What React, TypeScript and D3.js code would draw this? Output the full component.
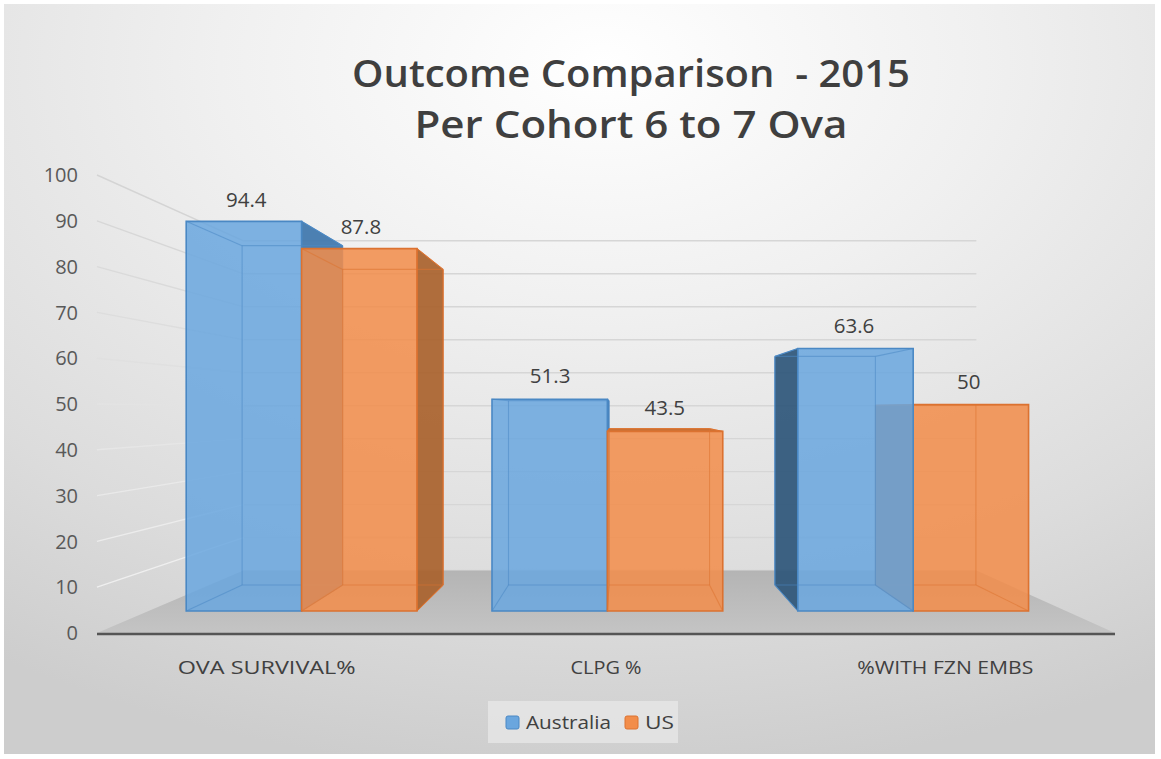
import React from 'react';
import * as d3 from 'd3';

const categories = ['OVA SURVIVAL%', 'CLPG %', '%WITH FZN EMBS'];
const seriesNames = ['Australia', 'US'];
const australiaValues = [94.4, 51.3, 63.6];
const usValues = [87.8, 43.5, 50];
const yTicks = [0, 10, 20, 30, 40, 50, 60, 70, 80, 90, 100];
const titleLines = ['Outcome Comparison  - 2015', 'Per Cohort 6 to 7 Ova'];

const W = 1161;
const H = 759;
const VP = { x: 620, y: 410 };
const DEPTH_K = 0.389;
const Z_FRONT = 0.282;
const Z_BACK = 0.704;
const Z_LABEL = 0.3;

const FONT = "'Open Sans', 'Noto Sans', 'DejaVu Sans', sans-serif";

const palette: Record<string, any> = {
  Australia: { front: '#6aa6de', right: '#3e76ad', left: '#2e5679', top: '#4f88c0', stroke: '#4a88c4' },
  US: { front: '#f28d4a', right: '#a9622d', left: '#b5642a', top: '#c56a2c', stroke: '#dc7230' },
};

function sc(z: number) {
  return 1 / (1 + DEPTH_K * z);
}
function proj(X: number, Y: number, z: number): [number, number] {
  const k = sc(z);
  return [VP.x + (X - VP.x) * k, VP.y + (Y - VP.y) * k];
}
const pts = (a: [number, number][]) => a.map((p) => p.join(',')).join(' ');

export default function App() {
  const x = d3.scaleBand<string>().domain(categories).range([97, 1115]).paddingInner(0).paddingOuter(0);
  const sub = d3
    .scaleBand<string>()
    .domain(seriesNames)
    .range([0, x.bandwidth()])
    .paddingInner(0)
    .paddingOuter(0.325);
  const y = d3.scaleLinear().domain([0, 100]).range([633, 175]);

  const [x0, x1] = x.range();
  const yBase = y(0);

  const valuesBySeries: Record<string, number[]> = { Australia: australiaValues, US: usValues };

  type Bar = { cat: string; name: string; v: number; X0: number; X1: number };
  const bars: Bar[] = [];
  categories.forEach((cat, i) => {
    seriesNames.forEach((name) => {
      const X0 = (x(cat) as number) + (sub(name) as number);
      bars.push({ cat, name, v: valuesBySeries[name][i], X0, X1: X0 + sub.bandwidth() });
    });
  });
  // painter order: farthest from vanishing point first
  const ordered = [...bars].sort(
    (a, b) => Math.abs((b.X0 + b.X1) / 2 - VP.x) - Math.abs((a.X0 + a.X1) / 2 - VP.x)
  );

  const floor: [number, number][] = [
    proj(x0, yBase, 0),
    proj(x1, yBase, 0),
    proj(x1, yBase, 1),
    proj(x0, yBase, 1),
  ];

  const sideColor = d3.interpolateRgb('#f2f2f2', '#d4d4d4');

  return (
    <svg
      width={W}
      height={H}
      viewBox={`0 0 ${W} ${H}`}
      style={{ position: 'absolute', left: 0, top: 0, display: 'block' }}
    >
      <defs>
        <radialGradient id="bg" cx="52%" cy="8%" r="95%" fx="52%" fy="8%">
          <stop offset="0%" stopColor="#ffffff" />
          <stop offset="35%" stopColor="#f0f0f0" />
          <stop offset="75%" stopColor="#dcdcdc" />
          <stop offset="100%" stopColor="#cdcdcd" />
        </radialGradient>
        <linearGradient id="floorGrad" x1="0" y1="0" x2="0" y2="1">
          <stop offset="0%" stopColor="#b4b4b4" />
          <stop offset="100%" stopColor="#c4c4c4" />
        </linearGradient>
      </defs>
      <rect x={0} y={0} width={W} height={H} fill="#ffffff" />
      <rect x={4} y={4} width={W - 10} height={H - 9} fill="url(#bg)" />

      {/* back wall gridlines */}
      {yTicks.map((v) => {
        const a = proj(x0, y(v), 1);
        const b = proj(x1, y(v), 1);
        return <line key={'bw' + v} x1={a[0]} y1={a[1]} x2={b[0]} y2={b[1]} stroke="#d6d6d6" strokeWidth={1.4} />;
      })}
      {/* side wall gridlines */}
      {yTicks.slice(1).map((v) => {
        const a = proj(x0, y(v), 0);
        const b = proj(x0, y(v), 1);
        return (
          <line key={'sw' + v} x1={a[0]} y1={a[1]} x2={b[0]} y2={b[1]} stroke={sideColor(v / 100)} strokeWidth={1.4} />
        );
      })}

      {/* floor */}
      <polygon points={pts(floor)} fill="url(#floorGrad)" />
      <line x1={floor[0][0]} y1={floor[0][1] + 1} x2={floor[1][0]} y2={floor[1][1] + 1} stroke="#555555" strokeWidth={2.6} />

      {/* bars */}
      {ordered.map((b) => {
        const c = palette[b.name];
        const Yt = y(b.v);
        const fTL = proj(b.X0, Yt, Z_FRONT);
        const fTR = proj(b.X1, Yt, Z_FRONT);
        const fBR = proj(b.X1, yBase, Z_FRONT);
        const fBL = proj(b.X0, yBase, Z_FRONT);
        const bTL = proj(b.X0, Yt, Z_BACK);
        const bTR = proj(b.X1, Yt, Z_BACK);
        const bBR = proj(b.X1, yBase, Z_BACK);
        const bBL = proj(b.X0, yBase, Z_BACK);
        const edges: [number, number][][] = [
          [bTL, bTR], [bTR, bBR], [bBR, bBL], [bBL, bTL],
          [fTL, bTL], [fTR, bTR], [fBR, bBR], [fBL, bBL],
        ];
        return (
          <g key={b.cat + b.name}>
            {b.X1 < VP.x && (
              <polygon points={pts([fTR, bTR, bBR, fBR])} fill={c.right} fillOpacity={0.92} stroke={c.stroke} strokeWidth={1} />
            )}
            {b.X0 > VP.x && (
              <polygon points={pts([fTL, bTL, bBL, fBL])} fill={c.left} fillOpacity={0.92} stroke={c.stroke} strokeWidth={1} />
            )}
            {Yt > VP.y && (
              <polygon points={pts([fTL, fTR, bTR, bTL])} fill={c.top} fillOpacity={0.95} stroke={c.stroke} strokeWidth={1} />
            )}
            <polygon points={pts([fTL, fTR, fBR, fBL])} fill={c.front} fillOpacity={0.86} />
            {edges.map((e, k) => (
              <line key={k} x1={e[0][0]} y1={e[0][1]} x2={e[1][0]} y2={e[1][1]} stroke={c.stroke} strokeOpacity={0.55} strokeWidth={1.1} />
            ))}
            <polygon points={pts([fTL, fTR, fBR, fBL])} fill="none" stroke={c.stroke} strokeWidth={1.6} />
          </g>
        );
      })}

      {/* data labels */}
      {bars.map((b) => {
        const p = proj((b.X0 + b.X1) / 2, y(b.v), Z_LABEL);
        return (
          <text key={'lbl' + b.cat + b.name} x={p[0]} y={p[1] - 16} textAnchor="middle" fontFamily={FONT} fontSize={20.5} fill="#404040">
            {String(b.v)}
          </text>
        );
      })}

      {/* value axis labels */}
      {yTicks.map((v) => (
        <text key={'t' + v} x={78} y={y(v)} dy="0.36em" textAnchor="end" fontFamily={FONT} fontSize={20} fill="#595959">
          {v}
        </text>
      ))}

      {/* category labels */}
      {categories.map((cat, i) => (
        <text
          key={'c' + cat}
          x={(x(cat) as number) + x.bandwidth() / 2}
          y={674}
          textAnchor="middle"
          fontFamily={FONT}
          fontSize={18}
          fill="#404040"
          textLength={[178, 71, 176][i]}
          lengthAdjust="spacingAndGlyphs"
        >
          {cat}
        </text>
      ))}

      {/* legend */}
      <g transform="translate(488,701)">
        <rect x={0} y={0} width={190} height={42} fill="#eaeaea" fillOpacity={0.7} />
        {seriesNames.map((name, i) => {
          const ox = [18, 137][i];
          return (
            <g key={'lg' + name} transform={`translate(${ox},0)`}>
              <rect x={0} y={15} width={13} height={13} rx={2} fill={palette[name].front} stroke={palette[name].stroke} strokeWidth={1} />
              <text
                x={20}
                y={28}
                fontFamily={FONT}
                fontSize={19}
                fill="#404040"
                textLength={[85, 29][i]}
                lengthAdjust="spacingAndGlyphs"
              >
                {name}
              </text>
            </g>
          );
        })}
      </g>

      {/* title */}
      {titleLines.map((t, i) => (
        <text
          key={'title' + i}
          x={631}
          y={[87, 138][i]}
          textAnchor="middle"
          fontFamily={FONT}
          fontWeight={600}
          fontSize={37}
          fill="#3f3f3f"
          textLength={[558, 433][i]}
          lengthAdjust="spacingAndGlyphs"
          style={{ whiteSpace: 'pre' }}
        >
          {t}
        </text>
      ))}
    </svg>
  );
}
